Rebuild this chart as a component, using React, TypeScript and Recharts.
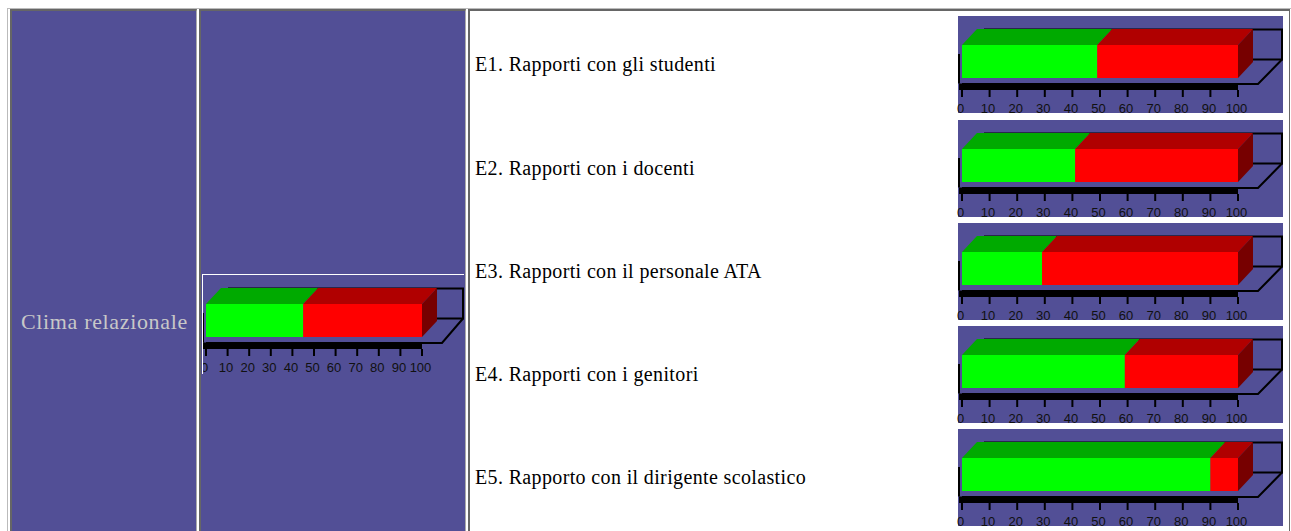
import React from "react";
import { BarChart, Bar, XAxis, YAxis } from "recharts";

const sectionTitle = "Clima relazionale";
const overallLabel = "Clima";
const overallGreen = [45];
const overallRed = [55];
const itemLabels = [
  "E1. Rapporti con gli studenti",
  "E2. Rapporti con i docenti",
  "E3. Rapporti con il personale ATA",
  "E4. Rapporti con i genitori",
  "E5. Rapporto con il dirigente scolastico",
];
const itemGreen = [49, 41, 29, 59, 90];
const itemRed = [51, 59, 71, 41, 10];
const ticks = [0, 10, 20, 30, 40, 50, 60, 70, 80, 90, 100];

const PURPLE = "#524F96";
const DX = 15;
const DY = 16;
const PAD = 6;

const shape3d = (front: string, top: string, side: string, showSide: boolean) => (p: any) => {
  const { x, y, width, height } = p;
  return (
    <g>
      <polygon points={`${x},${y} ${x + DX},${y - DY} ${x + width + DX},${y - DY} ${x + width},${y}`} fill={top} />
      {showSide && (
        <polygon
          points={`${x + width},${y} ${x + width + DX},${y - DY} ${x + width + DX},${y + height - DY} ${x + width},${y + height}`}
          fill={side}
        />
      )}
      <rect x={x} y={y} width={width} height={height} fill={front} />
    </g>
  );
};

const greenShape = shape3d("#00FF00", "#00AA00", "#007700", false);
const redShape = shape3d("#FF0000", "#B00000", "#770000", true);

type MiniProps = {
  label: string;
  green: number;
  red: number;
  left: number;
  top: number;
  width: number;
  height: number;
  plotLeft: number;
  plotWidth: number;
  fontSize: number;
};

function Mini({ label, green, red, left, top, width, height, plotLeft, plotWidth, fontSize }: MiniProps) {
  const plotTop = 17;
  const plotHeight = 57;
  const bandTop = plotTop + plotHeight - 6.5;
  const bandBottom = plotTop + plotHeight;
  const x0 = plotLeft + PAD;
  const x1 = x0 + plotWidth;
  const backTop = plotTop - 4 + 0.5;
  const floorBack = backTop + 30;
  const rightEdge = width + PAD - 1;
  const chartHeight = height + 6;
  return (
    <div style={{ position: "absolute", left, top, width, height, background: PURPLE }}>
      <div style={{ position: "absolute", left: -PAD, top: 0 }}>
        <BarChart
          width={width + PAD}
          height={chartHeight}
          layout="vertical"
          data={[{ name: label, green, red }]}
          margin={{ top: plotTop, right: width + PAD - x1, bottom: 0, left: x0 }}
          barCategoryGap={0}
          style={{ fontFamily: "'Liberation Sans', Arial, sans-serif" }}
        >
          <g>
            <polyline
              points={`${x0 + 22},${backTop} ${rightEdge},${backTop} ${rightEdge},${floorBack} ${x1 + DX},${floorBack}`}
              fill="none"
              stroke="#000"
              strokeWidth={2}
            />
            <polyline
              points={`${rightEdge},${floorBack} ${x1 + 20},${bandTop + 0.5} ${x0},${bandTop + 0.5}`}
              fill="none"
              stroke="#000"
              strokeWidth={2}
            />
            <polyline points={`${x0 - 3},${plotTop + 21} ${x0 - 3},${bandTop}`} fill="none" stroke="#000" strokeWidth={2} />
            <rect x={x0 - 3} y={bandTop} width={plotWidth + 3} height={bandBottom - bandTop} fill="#000" />
          </g>
          <XAxis
            type="number"
            domain={[0, 100]}
            ticks={ticks}
            interval={0}
            height={chartHeight - plotTop - plotHeight}
            axisLine={false}
            tickSize={7}
            tickLine={{ stroke: "#000", strokeWidth: 2 }}
            tick={{ fill: "#111", fontSize, dx: -1.5 }}
            tickMargin={7}
          />
          <YAxis type="category" dataKey="name" hide />
          <Bar dataKey="green" stackId="a" barSize={33} shape={greenShape} isAnimationActive={false} />
          <Bar dataKey="red" stackId="a" barSize={33} shape={redShape} isAnimationActive={false} />
        </BarChart>
      </div>
    </div>
  );
}

const cell = (left: number, width: number, background: string): React.CSSProperties => ({
  position: "absolute",
  left,
  top: 9,
  width,
  height: 540,
  background,
  boxSizing: "border-box",
  borderTop: "2px solid #666",
  borderLeft: "2px solid #666",
  borderRight: "1px solid #aaa",
});

export default function App() {
  return (
    <div style={{ position: "fixed", left: 0, top: 0, width: 1291, height: 531, overflow: "hidden", background: "#fff", fontFamily: "'Liberation Serif', 'Times New Roman', serif" }}>
      <div style={{ position: "absolute", left: 7, top: 8, width: 1284, height: 1, background: "#bbb" }} />
      <div style={{ position: "absolute", left: 7, top: 8, width: 1, height: 540, background: "#bbb" }} />
      <div style={cell(10, 187, PURPLE)} />
      <div style={cell(199, 267, PURPLE)} />
      <div style={{ ...cell(468, 822, "#fff"), borderRight: "1px solid #666" }} />
      <div style={{ position: "absolute", left: 21, top: 309, fontSize: 22, letterSpacing: 0.65, lineHeight: "26px", color: "#C8C8C8", whiteSpace: "nowrap" }}>{sectionTitle}</div>
      <Mini label={overallLabel} green={overallGreen[0]} red={overallRed[0]} left={204} top={275} width={260} height={97} plotLeft={2} plotWidth={216} fontSize={13} />
      <div style={{ position: "absolute", left: 201, top: 274, width: 1, height: 100, background: PURPLE }} />
      <div style={{ position: "absolute", left: 202, top: 274, width: 262, height: 100, borderTop: "1.5px solid #fff", borderLeft: "1.5px solid #fff", boxSizing: "border-box" }} />
      {itemLabels.map((label, i) => {
        const top = [16, 120, 223, 326, 429][i];
        return (
          <React.Fragment key={label}>
            <div style={{ position: "absolute", left: 475, top: top + 36, fontSize: 20, letterSpacing: 0.36, lineHeight: "24px", color: "#000", whiteSpace: "nowrap" }}>{label}</div>
            <Mini label={label} green={itemGreen[i]} red={itemRed[i]} left={958} top={top} width={325} height={97} plotLeft={4} plotWidth={276} fontSize={13} />
          </React.Fragment>
        );
      })}
    </div>
  );
}
